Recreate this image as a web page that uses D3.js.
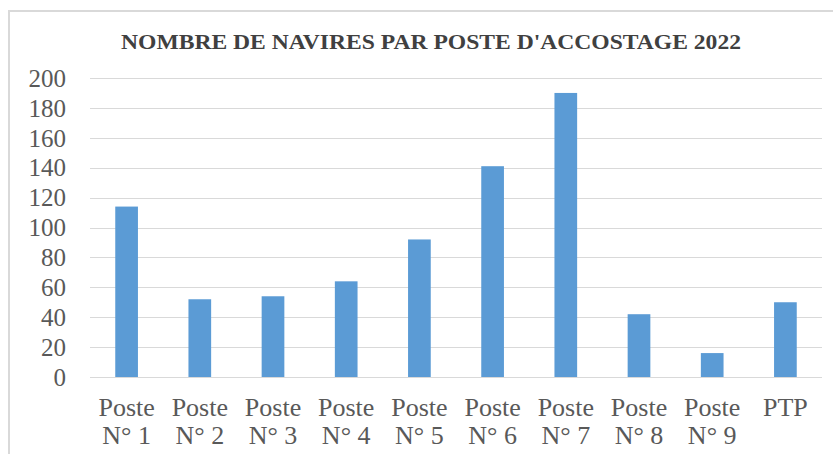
<!DOCTYPE html>
<html>
<head>
  <meta charset="utf-8">
  <title>Nombre de navires par poste d'accostage 2022</title>
  <style>
    body { margin: 0; background: #fff; }
    svg text { font-family: "Liberation Serif", "Times New Roman", serif; fill: #595959; }
    .grid line { stroke: #d9d9d9; stroke-width: 1.2px; }
  </style>
</head>
<body>
  <svg width="833" height="454"></svg>
  <script src="https://d3js.org/d3.v7.min.js"></script>
  <script>
    // data
    var postes = ['Poste|N° 1', 'Poste|N° 2', 'Poste|N° 3', 'Poste|N° 4', 'Poste|N° 5',
                  'Poste|N° 6', 'Poste|N° 7', 'Poste|N° 8', 'Poste|N° 9', 'PTP'];
    var navires = [114, 52, 54, 64, 92, 141, 190, 42, 16, 50];
    var yTicks = [0, 20, 40, 60, 80, 100, 120, 140, 160, 180, 200];

    var svg = d3.select('svg');
    var plotLeft = 90, plotRight = 822, plotTop = 78, plotBottom = 377;

    // frame (top and left edges only are visible)
    svg.append('path')
      .attr('d', 'M9,454V11H833')
      .attr('fill', 'none')
      .attr('stroke', '#d9d9d9')
      .attr('stroke-width', 2);

    svg.append('text')
      .attr('x', 431)
      .attr('y', 49)
      .attr('text-anchor', 'middle')
      .attr('textLength', 620)
      .attr('lengthAdjust', 'spacingAndGlyphs')
      .style('font-weight', 'bold')
      .style('font-size', '20px')
      .style('fill', '#404040')
      .text("NOMBRE DE NAVIRES PAR POSTE D'ACCOSTAGE 2022");

    var x = d3.scaleBand().domain(postes).range([plotLeft, plotRight]).paddingInner(0.69).paddingOuter(0.345);
    var y = d3.scaleLinear().domain([0, 200]).range([plotBottom, plotTop]);

    // gridlines
    svg.append('g')
      .attr('class', 'grid')
      .selectAll('line')
      .data(yTicks)
      .join('line')
      .attr('x1', plotLeft)
      .attr('x2', plotRight)
      .attr('y1', function(d) { return Math.round(y(d)) + 0.5; })
      .attr('y2', function(d) { return Math.round(y(d)) + 0.5; });

    // y axis labels
    var yAxis = svg.append('g')
      .attr('transform', 'translate(' + (plotLeft - 24) + ',0)')
      .call(d3.axisLeft(y).tickValues(yTicks).tickSize(0).tickPadding(0));
    yAxis.select('.domain').remove();
    yAxis.selectAll('text')
      .attr('dy', '0.33em')
      .style('font-size', '25px')
      .style('font-family', '"Liberation Serif", serif')
      .style('fill', '#595959');

    // bars
    svg.append('g')
      .selectAll('rect')
      .data(navires)
      .join('rect')
      .attr('x', function(d, i) { return x(postes[i]); })
      .attr('width', x.bandwidth())
      .attr('y', function(d) { return y(d); })
      .attr('height', function(d) { return y(0) - y(d); })
      .attr('fill', '#5b9bd5');

    // category labels on two lines
    var xAxis = svg.append('g')
      .attr('transform', 'translate(0,' + plotBottom + ')')
      .call(d3.axisBottom(x).tickSize(0).tickFormat(''));
    xAxis.select('.domain').remove();
    xAxis.selectAll('.tick').append('text')
      .attr('text-anchor', 'middle')
      .style('font-size', '26px')
      .style('font-family', '"Liberation Serif", serif')
      .style('fill', '#595959')
      .selectAll('tspan')
      .data(function(d) { return d.split('|'); })
      .join('tspan')
      .attr('x', 0)
      .attr('y', function(d, i) { return 39 + i * 28; })
      .text(function(d) { return d; });
  </script>
</body>
</html>
